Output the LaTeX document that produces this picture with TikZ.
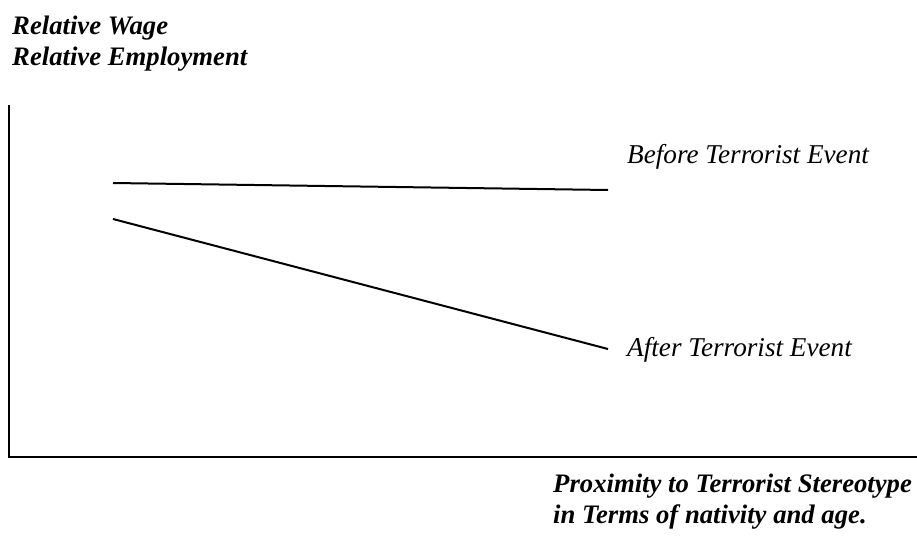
\documentclass[tikz,border=0pt]{standalone}
\usepackage{fontspec}
\setmainfont{Liberation Serif}
\begin{document}
\begin{tikzpicture}[x=1pt,y=-1pt,
  lbl/.style={inner sep=0pt,anchor=base west,font=\fontsize{27.2}{31}\selectfont\itshape},
  blbl/.style={lbl,font=\fontsize{26.7}{31}\selectfont\bfseries\itshape},
  axis/.style={line width=2.2pt},
  curve/.style={line width=2pt}]
\useasboundingbox (0,0) rectangle (917,543);
% axes
\coordinate (ytop) at (9,105);
\coordinate (orig) at (9,457);
\coordinate (xend) at (917,457);
\draw[axis] (ytop) -- (orig) -- (xend);
% lines
\coordinate (b1) at (113,183);
\coordinate (b2) at (608,190);
\coordinate (a1) at (113,219);
\coordinate (a2) at (608,349);
\draw[curve] (b1) -- (b2);
\draw[curve] (a1) -- (a2);
% labels
\node[blbl] (yl1) at (12,35) {Relative Wage};
\node[blbl] (yl2) at (12,66) {Relative Employment};
\node[lbl] (before) at (627,163) {Before Terrorist Event};
\node[lbl] (after) at (627,356) {After Terrorist Event};
\node[blbl] (xl1) at (553,492) {Proximity to Terrorist Stereotype};
\node[blbl] (xl2) at (553,523) {in Terms of nativity and age.};
\end{tikzpicture}
\end{document}
